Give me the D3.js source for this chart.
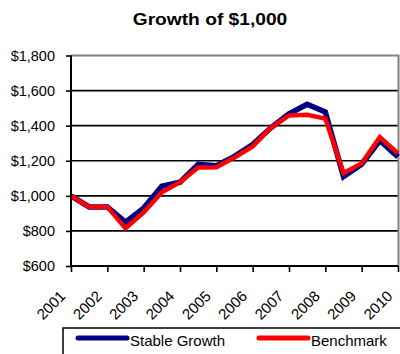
<!DOCTYPE html>
<html>
<head>
<meta charset="utf-8">
<script src="https://cdn.jsdelivr.net/npm/d3@7/dist/d3.min.js"></script>
<style>
  html, body { margin: 0; padding: 0; background: #fff; }
  svg { display: block; font-family: "Liberation Sans", Arial, sans-serif; }
</style>
</head>
<body>
<svg id="chart" width="400" height="354"></svg>
<script>
// Half-yearly observation points, 2001 through 2010
const periods = [2001, 2001.5, 2002, 2002.5, 2003, 2003.5, 2004, 2004.5, 2005, 2005.5,
                 2006, 2006.5, 2007, 2007.5, 2008, 2008.5, 2009, 2009.5, 2010];
const stableGrowth = [1000, 937, 937, 850, 930, 1055, 1078, 1180, 1172, 1225,
                      1292, 1388, 1468, 1522, 1478, 1110, 1180, 1315, 1222];
const benchmark    = [1000, 937, 937, 815, 905, 1020, 1078, 1162, 1163, 1218,
                      1282, 1388, 1458, 1462, 1440, 1130, 1185, 1335, 1242];
const yearLabels = ["2001", "2002", "2003", "2004", "2005", "2006", "2007", "2008", "2009", "2010"];
const yTicks = [600, 800, 1000, 1200, 1400, 1600, 1800];
const seriesNames = ["Stable Growth", "Benchmark"];
const seriesColors = ["#000080", "#ff0000"];

const svg = d3.select("#chart");
const plotLeft = 71, plotRight = 398, plotTop = 55.5, plotBottom = 266;

const x = d3.scaleLinear().domain([2001, 2010]).range([plotLeft, plotRight]);
const y = d3.scaleLinear().domain([600, 1800]).range([plotBottom, plotTop]);
const money = d => "$" + d3.format(",")(d);

// Title (text drawn slightly wide, as in the original layout)
svg.append("text")
  .attr("transform", "translate(210,25) scale(1.2,1)")
  .attr("text-anchor", "middle")
  .attr("font-weight", "bold")
  .attr("font-size", 16)
  .text("Growth of $1,000");

// Horizontal gridlines
svg.append("g").selectAll("line")
  .data(yTicks.filter(d => d !== 600 && d !== 1800))
  .join("line")
  .attr("x1", plotLeft).attr("x2", plotRight)
  .attr("y1", d => y(d)).attr("y2", d => y(d))
  .attr("stroke", "#000").attr("stroke-width", 1.6);

// Plot-area border (top and right)
svg.append("path")
  .attr("d", `M${plotLeft},${plotTop}H${plotRight + 0.5}V${plotBottom}`)
  .attr("fill", "none").attr("stroke", "#808080").attr("stroke-width", 2);

// Series lines
const series = [stableGrowth, benchmark];
const line = d3.line().x((d, i) => x(periods[i])).y(d => y(d));
svg.append("g").selectAll("path")
  .data(series)
  .join("path")
  .attr("d", d => line(d))
  .attr("fill", "none")
  .attr("stroke", (d, i) => seriesColors[i])
  .attr("stroke-width", (d, i) => i === 0 ? 5.5 : 4.5)
  .attr("stroke-linejoin", "miter")
  .attr("stroke-miterlimit", 3);

// Y axis
const yAxis = svg.append("g")
  .attr("transform", `translate(${plotLeft},0)`)
  .call(d3.axisLeft(y).tickValues(yTicks).tickFormat(money).tickSize(5).tickPadding(11));
yAxis.select(".domain").attr("stroke", "#000").attr("stroke-width", 2)
  .attr("d", `M0,${plotTop}V${plotBottom}`);
yAxis.selectAll(".tick line").attr("stroke", "#000").attr("stroke-width", 1.6);
yAxis.selectAll(".tick text")
  .attr("font-size", 14.5)
  .attr("font-family", "Liberation Sans, Arial, sans-serif")
  .attr("fill", "#000");

// X axis
const xAxis = svg.append("g")
  .attr("transform", `translate(0,${plotBottom})`)
  .call(d3.axisBottom(x).tickValues(yearLabels.map(Number)).tickFormat(d => String(d)).tickSize(6));
xAxis.select(".domain").attr("stroke", "#000").attr("stroke-width", 2)
  .attr("d", `M${plotLeft},0H${plotRight}`);
xAxis.selectAll(".tick line").attr("stroke", "#000").attr("stroke-width", 1.6);
xAxis.selectAll(".tick text")
  .attr("font-size", 15)
  .attr("font-family", "Liberation Sans, Arial, sans-serif")
  .attr("fill", "#000")
  .attr("text-anchor", "end")
  .attr("y", 0).attr("dy", 0)
  .attr("transform", "translate(-5,31) rotate(-45)");

// Legend
const legend = svg.append("g");
legend.append("rect")
  .attr("x", 63).attr("y", 328).attr("width", 345).attr("height", 40)
  .attr("fill", "#fff").attr("stroke", "#000").attr("stroke-width", 1.5);
const legendX = [78, 259];
const items = legend.selectAll("g.item")
  .data(seriesNames)
  .join("g").attr("class", "item")
  .attr("transform", (d, i) => `translate(${legendX[i]},0)`);
items.append("line")
  .attr("x1", 0).attr("x2", 49).attr("y1", 338).attr("y2", 338)
  .attr("stroke", (d, i) => seriesColors[i])
  .attr("stroke-width", 5).attr("stroke-linecap", "round");
items.append("text")
  .attr("x", 52).attr("y", 346)
  .attr("font-size", 15)
  .text(d => d);
</script>
</body>
</html>
